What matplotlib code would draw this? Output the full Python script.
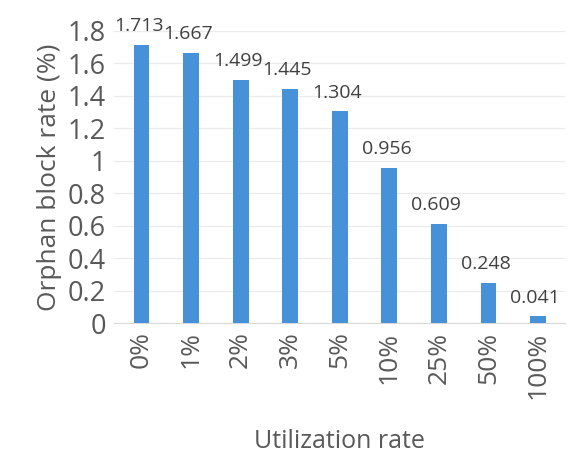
import matplotlib.pyplot as plt

categories = ['0%', '1%', '2%', '3%', '5%', '10%', '25%', '50%', '100%']
rates = [1.713, 1.667, 1.499, 1.445, 1.304, 0.956, 0.609, 0.248, 0.041]
yticks = [0, 0.2, 0.4, 0.6, 0.8, 1, 1.2, 1.4, 1.6, 1.8]
ytick_labels = ['0', '0.2', '0.4', '0.6', '0.8', '1', '1.2', '1.4', '1.6', '1.8']

plt.rcParams['font.family'] = ['Open Sans', 'DejaVu Sans']

fig = plt.figure(figsize=(5.71, 4.55), dpi=100)
ax = fig.add_axes([0.2, 0.29, 0.79, 0.642])

x = list(range(len(categories)))
ax.bar(x, rates, width=0.32, color='#4691d8', zorder=3)
for xi, v in zip(x, rates):
    ax.annotate('%.3f' % v, (xi, v), xytext=(-2, 7), textcoords='offset points',
                ha='center', va='bottom', fontsize=14, color='#404040',
                annotation_clip=False, zorder=4)

ax.set_xlim(-0.55, len(categories) - 0.45)
ax.set_ylim(0, 1.8)
ax.set_yticks(yticks)
ax.set_yticklabels(ytick_labels, fontsize=19.5, color='#595959')
ax.set_xticks(x)
ax.set_xticklabels(categories, rotation=90, fontsize=19, color='#595959')
ax.tick_params(length=0, pad=6)
ax.grid(axis='y', color='#ebebeb', linewidth=0.9, zorder=0)
for s in ['top', 'right', 'left']:
    ax.spines[s].set_visible(False)
ax.spines['bottom'].set_color('#d9d9d9')
ax.set_ylabel('Orphan block rate (%)', fontsize=19, color='#595959')
ax.set_xlabel('Utilization rate', fontsize=18, color='#595959', labelpad=22)

fig.savefig('out.png', dpi=100)
